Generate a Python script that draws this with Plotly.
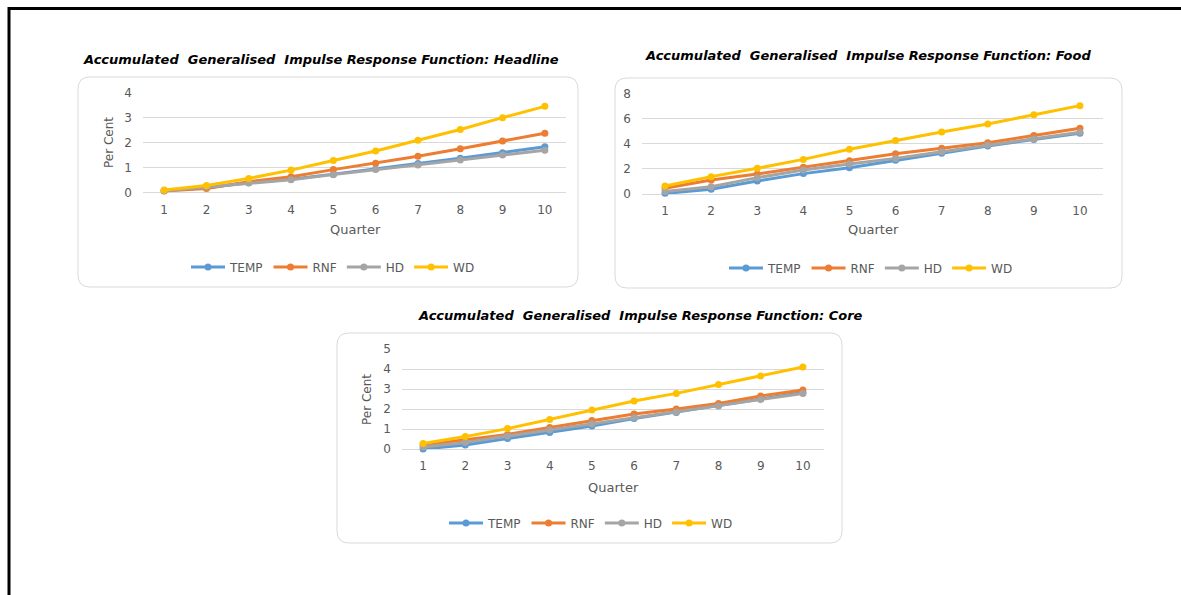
import plotly.graph_objects as go

W, H = 1181, 595

quarters = list(range(1, 11))
series_names = ["TEMP", "RNF", "HD", "WD"]
series_colors = ["#5B9BD5", "#ED7D31", "#A5A5A5", "#FFC000"]

# Headline
headline_temp = [0.09, 0.20, 0.40, 0.54, 0.74, 0.94, 1.16, 1.37, 1.59, 1.83]
headline_rnf = [0.07, 0.17, 0.44, 0.64, 0.92, 1.17, 1.45, 1.75, 2.06, 2.37]
headline_hd = [0.08, 0.23, 0.39, 0.52, 0.72, 0.92, 1.10, 1.30, 1.50, 1.69]
headline_wd = [0.11, 0.29, 0.57, 0.90, 1.28, 1.66, 2.09, 2.52, 2.99, 3.44]

# Food
food_temp = [0.05, 0.37, 1.03, 1.62, 2.09, 2.68, 3.23, 3.81, 4.32, 4.82]
food_rnf = [0.45, 1.11, 1.59, 2.12, 2.65, 3.20, 3.63, 4.08, 4.64, 5.22]
food_hd = [0.19, 0.58, 1.30, 1.90, 2.38, 2.83, 3.36, 3.89, 4.37, 4.90]
food_wd = [0.64, 1.38, 2.04, 2.75, 3.55, 4.26, 4.93, 5.56, 6.30, 7.02]

# Core
core_temp = [0.00, 0.20, 0.52, 0.82, 1.15, 1.52, 1.83, 2.17, 2.50, 2.82]
core_rnf = [0.20, 0.45, 0.73, 1.08, 1.42, 1.75, 2.00, 2.28, 2.65, 2.95]
core_hd = [0.10, 0.32, 0.65, 0.95, 1.25, 1.57, 1.85, 2.15, 2.48, 2.78]
core_wd = [0.28, 0.62, 1.02, 1.48, 1.95, 2.40, 2.78, 3.22, 3.65, 4.10]

titles = [
    "Accumulated  Generalised  Impulse Response Function: Headline",
    "Accumulated  Generalised  Impulse Response Function: Food",
    "Accumulated  Generalised  Impulse Response Function: Core",
]


def fx(px):
    return px / W


def fy(py):
    return 1 - py / H


GRID = "#D9D9D9"
TXT = "#595959"
FONT = "DejaVu Sans"

panels = [
    dict(data=[headline_temp, headline_rnf, headline_hd, headline_wd],
         plot=(143, 566, 92.3, 192.7), ymax=4, dtick=1, box=(78, 578, 77, 287),
         title_xy=(321, 60), legend_xy=(333, 267), quarter_xy=(355, 230),
         percent_xy=(109, 143)),
    dict(data=[food_temp, food_rnf, food_hd, food_wd],
         plot=(642, 1103, 93.3, 194), ymax=8, dtick=2, box=(615, 1122, 78, 288),
         title_xy=(868, 55), legend_xy=(871, 268), quarter_xy=(873, 230),
         percent_xy=None),
    dict(data=[core_temp, core_rnf, core_hd, core_wd],
         plot=(402, 824, 349, 449), ymax=5, dtick=1, box=(337, 842, 333, 543),
         title_xy=(640, 315), legend_xy=(591, 523), quarter_xy=(613, 487),
         percent_xy=(367, 400)),
]

fig = go.Figure()
shapes = []
annotations = []
layout_axes = {}


def rounded_rect(x0, x1, y0, y1, r):
    pts = [
        f"M {fx(x0 + r)},{fy(y0)}",
        f"L {fx(x1 - r)},{fy(y0)}",
        f"Q {fx(x1)},{fy(y0)} {fx(x1)},{fy(y0 + r)}",
        f"L {fx(x1)},{fy(y1 - r)}",
        f"Q {fx(x1)},{fy(y1)} {fx(x1 - r)},{fy(y1)}",
        f"L {fx(x0 + r)},{fy(y1)}",
        f"Q {fx(x0)},{fy(y1)} {fx(x0)},{fy(y1 - r)}",
        f"L {fx(x0)},{fy(y0 + r)}",
        f"Q {fx(x0)},{fy(y0)} {fx(x0 + r)},{fy(y0)}",
        "Z",
    ]
    return " ".join(pts)


for i, p in enumerate(panels):
    n = i + 1
    xa = "x" if n == 1 else f"x{n}"
    ya = "y" if n == 1 else f"y{n}"
    leg = "legend" if n == 1 else f"legend{n}"

    for name, color, vals in zip(series_names, series_colors, p["data"]):
        fig.add_trace(go.Scatter(
            x=quarters, y=vals, name=name, mode="lines+markers",
            line=dict(color=color, width=3),
            marker=dict(color=color, size=7, symbol="circle"),
            xaxis=xa, yaxis=ya, legend=leg, cliponaxis=False,
        ))

    x0, x1, ytop, ybot = p["plot"]
    xkey = "xaxis" if n == 1 else f"xaxis{n}"
    ykey = "yaxis" if n == 1 else f"yaxis{n}"
    layout_axes[xkey] = dict(
        domain=[fx(x0), fx(x1)], anchor=ya, range=[0.5, 10.5],
        tickvals=quarters, showgrid=False, zeroline=False, showline=False,
        ticks="", tickfont=dict(family=FONT, size=12, color=TXT),
        ticklabelstandoff=8,
    )
    layout_axes[ykey] = dict(
        domain=[fy(ybot), fy(ytop)], anchor=xa, range=[0, p["ymax"]],
        dtick=p["dtick"], showgrid=True, gridcolor=GRID, gridwidth=1,
        zeroline=True, zerolinecolor=GRID, zerolinewidth=1, showline=False,
        ticks="", tickfont=dict(family=FONT, size=12, color=TXT),
        ticklabelstandoff=10,
    )

    bx0, bx1, by0, by1 = p["box"]
    shapes.append(dict(type="path", xref="paper", yref="paper",
                       path=rounded_rect(bx0, bx1, by0, by1, 12),
                       line=dict(color=GRID, width=1), layer="below"))

    tx, ty = p["title_xy"]
    annotations.append(dict(
        x=fx(tx), y=fy(ty), xref="paper", yref="paper", showarrow=False,
        text=f"<b><i>{titles[i]}</i></b>", xanchor="center", yanchor="middle",
        font=dict(family=FONT, size=13, color="#000000"),
    ))
    qx, qy = p["quarter_xy"]
    annotations.append(dict(
        x=fx(qx), y=fy(qy), xref="paper", yref="paper", showarrow=False,
        text="Quarter", xanchor="center", yanchor="middle",
        font=dict(family=FONT, size=13, color=TXT),
    ))
    if p["percent_xy"]:
        px_, py_ = p["percent_xy"]
        annotations.append(dict(
            x=fx(px_), y=fy(py_), xref="paper", yref="paper", showarrow=False,
            text="Per Cent", textangle=-90, xanchor="center", yanchor="middle",
            font=dict(family=FONT, size=12, color=TXT),
        ))

    lx, ly = p["legend_xy"]
    layout_axes[leg] = dict(
        orientation="h", x=fx(lx), y=fy(ly), xanchor="center", yanchor="middle",
        font=dict(family=FONT, size=12, color=TXT), bgcolor="rgba(0,0,0,0)",
        itemwidth=34, itemclick=False, itemdoubleclick=False,
    )

# outer frame (top and left edges)
shapes.append(dict(type="path", xref="paper", yref="paper",
                   path=f"M {fx(9)},{fy(600)} L {fx(9)},{fy(8.5)} L {fx(1190)},{fy(8.5)}",
                   line=dict(color="#000000", width=3)))

fig.update_layout(
    width=W, height=H,
    margin=dict(l=0, r=0, t=0, b=0, autoexpand=False),
    paper_bgcolor="white", plot_bgcolor="white",
    shapes=shapes, annotations=annotations, showlegend=True,
    **layout_axes,
)

fig.write_html("out.html")
